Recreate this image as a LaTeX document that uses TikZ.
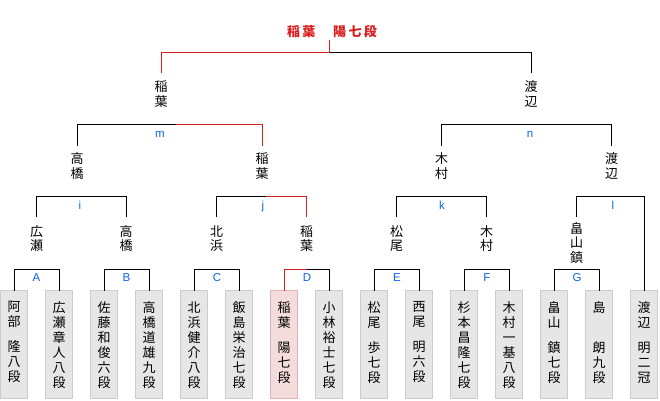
\documentclass[tikz,border=0pt]{standalone}
\usepackage{fontspec}
\newfontfamily\jp{Noto Sans CJK JP}
\newfontfamily\labfont{Liberation Sans}
\definecolor{winred}{HTML}{D81E1E}
\definecolor{labblue}{HTML}{0A64F0}
\definecolor{boxgray}{HTML}{E6E6E6}
\definecolor{boxedge}{HTML}{CCCCCC}
\definecolor{pinkfill}{HTML}{F4DCDC}
\definecolor{pinkedge}{HTML}{E0B4B4}
\newcommand{\vcol}[1]{\parbox[c][108pt][t]{27pt}{\centering\jp\fontsize{13}{15}\selectfont\vspace*{11pt}#1\par}}
\tikzset{
  ln/.style={line width=1pt, line cap=rect},
  rln/.style={line width=1pt, draw=winred, line cap=rect},
  gbox/.style={draw=boxedge, fill=boxgray, line width=1pt, inner sep=0pt, minimum width=27pt, minimum height=108pt, anchor=north},
  pbox/.style={gbox, draw=pinkedge, fill=pinkfill},
  nm/.style={font=\jp\fontsize{13}{14.5}\selectfont, align=center, inner sep=0pt},
  nmone/.style={nm, minimum height=42pt},
  nmtwo/.style={nm, minimum height=40pt},
  nmthree/.style={nm, minimum height=43.4pt},
  nmfour/.style={nm, minimum height=52pt},
  lbl/.style={font=\labfont\fontsize{11.5}{12}\selectfont, text=labblue, anchor=base, inner sep=0pt}
}
\begin{document}
\begin{tikzpicture}[x=1pt,y=-1pt]
\fill[white] (0,0) rectangle (660,400);
\useasboundingbox (0,0) rectangle (660,400);
% players
\node[gbox] (b1) at (14,290) {\vcol{阿\\部\\[10pt]隆\\八\\段}};
\node[gbox] (b2) at (59,290) {\vcol{広\\瀬\\章\\人\\八\\段}};
\node[gbox] (b3) at (104,290) {\vcol{佐\\藤\\和\\俊\\六\\段}};
\node[gbox] (b4) at (149,290) {\vcol{高\\橋\\道\\雄\\九\\段}};
\node[gbox] (b5) at (194,290) {\vcol{北\\浜\\健\\介\\八\\段}};
\node[gbox] (b6) at (239,290) {\vcol{飯\\島\\栄\\治\\七\\段}};
\node[pbox] (b7) at (284,290) {\vcol{稲\\葉\\[10pt]陽\\七\\段}};
\node[gbox] (b8) at (329,290) {\vcol{小\\林\\裕\\士\\七\\段}};
\node[gbox] (b9) at (374,290) {\vcol{松\\尾\\[10pt]歩\\七\\段}};
\node[gbox] (b10) at (419,290) {\vcol{西\\尾\\[10pt]明\\六\\段}};
\node[gbox] (b11) at (464,290) {\vcol{杉\\本\\昌\\隆\\七\\段}};
\node[gbox] (b12) at (509,290) {\vcol{木\\村\\一\\基\\八\\段}};
\node[gbox] (b13) at (554,290) {\vcol{畠\\山\\[10pt]鎮\\七\\段}};
\node[gbox] (b14) at (599,290) {\vcol{島\\[25pt]朗\\九\\段}};
\node[gbox] (b15) at (644,290) {\vcol{渡\\辺\\[10pt]明\\二\\冠}};
% round 1 winners
\node[nmthree] (p1) at (36.5,238.7) {広\\瀬};
\node[nmthree] (p2) at (126,238.7) {高\\橋};
\node[nmthree] (p3) at (216.5,238.7) {北\\浜};
\node[nmthree] (p4) at (306.5,238.7) {稲\\葉};
\node[nmthree] (p5) at (396.5,238.7) {松\\尾};
\node[nmthree] (p6) at (486.5,238.7) {木\\村};
\node[nmfour] (p7) at (576.5,243) {畠\\山\\鎮};
% round 2 winners
\node[nmtwo] (q1) at (77,166) {高\\橋};
\node[nmtwo] (q2) at (262,166) {稲\\葉};
\node[nmtwo] (q3) at (441.5,166) {木\\村};
\node[nmtwo] (q4) at (611.5,166) {渡\\辺};
% semifinal winners
\node[nmone] (r1) at (161,94) {稲\\葉};
\node[nmone] (r2) at (531,94) {渡\\辺};
% champion
\node[font=\jp\bfseries\fontsize{13}{15}\selectfont, text=winred, inner sep=0pt] (title) at (332,32) {\addfontfeature{LetterSpace=18}稲葉　陽七段};
% corner coordinates
\path (b7.north) ++(0,-21) coordinate (dL) ++(22.5,0) coordinate (dsplit);
\path (p3.north) ++(0,-20) coordinate (jL) ++(49.5,0) coordinate (jsplit);
\path (q1.north) ++(0,-21) coordinate (mL) ++(99,0) coordinate (msplit);
\path (r1.north) ++(0,-20) coordinate (tL) ++(168,0) coordinate (tsplit) ++(0,-12) coordinate (ttop);
% first round brackets
\draw[ln] (b1.north) -- ++(0,-21) -| (b2.north);
\draw[ln] (b3.north) -- ++(0,-21) -| (b4.north);
\draw[ln] (b5.north) -- ++(0,-21) -| (b6.north);
\draw[ln] (dsplit) -| (b8.north);
\draw[rln] (b7.north) -- (dL) -- (dsplit);
\draw[ln] (b9.north) -- ++(0,-21) -| (b10.north);
\draw[ln] (b11.north) -- ++(0,-21) -| (b12.north);
\draw[ln] (b13.north) -- ++(0,-21) -| (b14.north);
% second round brackets
\draw[ln] (p1.north) -- ++(0,-20) -| (p2.north);
\draw[ln] (p3.north) -- (jL) -- (jsplit);
\draw[rln] (jsplit) -| (p4.north);
\draw[ln] (p5.north) -- ++(0,-20) -| (p6.north);
\draw[ln] (p7.north) -- ++(0,-20) -| (b15.north);
% semifinal brackets
\draw[ln] (q1.north) -- (mL) -- (msplit);
\draw[rln] (msplit) -| (q2.north);
\draw[ln] (q3.north) -- ++(0,-21) -| (q4.north);
% final bracket
\draw[ln] (tsplit) -| (r2.north);
\draw[rln] (r1.north) -- (tL) -- (tsplit) -- (ttop);
% labels
\node[lbl] (lA) at (36.5,281) {A};
\node[lbl] (lB) at (126.5,281) {B};
\node[lbl] (lC) at (217,281) {C};
\node[lbl] (lD) at (307,281) {D};
\node[lbl] (lE) at (397,281) {E};
\node[lbl] (lF) at (487,281) {F};
\node[lbl] (lG) at (577,281) {G};
\node[lbl] (li) at (80,209) {i};
\node[lbl] (lj) at (263,209) {j};
\node[lbl] (lk) at (442,209) {k};
\node[lbl] (ll) at (613,209) {l};
\node[lbl] (lm) at (160,137) {m};
\node[lbl] (ln) at (530,137) {n};
\end{tikzpicture}
\end{document}
